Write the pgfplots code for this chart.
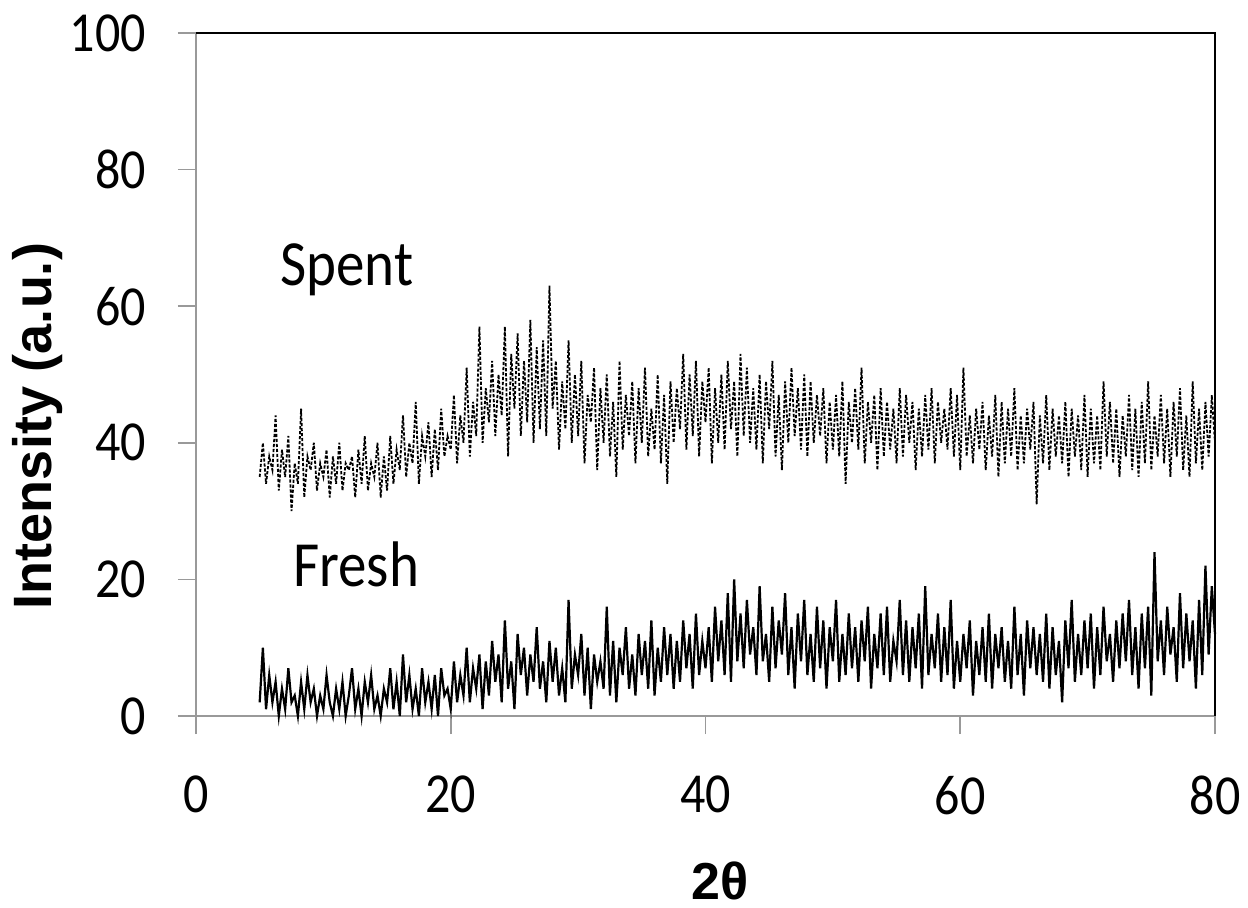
\documentclass[border=0pt]{standalone}
\usepackage{pgfplots}
\pgfplotsset{compat=1.18}
\usepackage{graphicx}
\usepackage{fontspec}
\setmainfont{Carlito}
\newfontfamily\arialb{Liberation Sans}[BoldFont={Liberation Sans Bold}]
\newcommand{\vs}[1]{\scalebox{1}[1.13]{#1}}
\begin{document}
\begin{tikzpicture}
\useasboundingbox (-98pt,-95.5pt) rectangle (526pt,358pt);
\begin{axis}[
  at={(0,0)}, anchor=south west,
  scale only axis, width=509.5pt, height=341.5pt,
  xmin=0, xmax=80, ymin=0, ymax=100,
  axis line style={draw=none},
  xtick={0,20,40,60,80}, ytick={0,20,40,60,80,100},
  tick pos=left, tick align=outside,
  major tick length=9pt,
  tick style={gray!80, line width=0.8pt},
  /pgf/number format/assume math mode=true,
  tick label style={font=\fontsize{25}{28}\selectfont},
  xticklabel style={yshift=-17.5pt},
  yticklabel style={xshift=-12.5pt},
  xticklabel={\vs{\pgfmathprintnumber{\tick}}},
  yticklabel={\vs{\pgfmathprintnumber{\tick}}},
  clip=false,
]
\draw[gray!80, line width=0.8pt] (axis cs:0,0) -- (axis cs:80,0);
\draw[gray!80, line width=0.8pt] (axis cs:0,0) -- (axis cs:0,100);
\draw[black, line width=1pt] (axis cs:0,100) -- (axis cs:80,100) -- (axis cs:80,0);

% Fresh
\addplot[black, line width=1.1pt, mark=none, line join=miter] coordinates {
(5,2)(5.25,10)(5.5,1)(5.75,6)
(6,2)(6.25,5)(6.5,0)(6.75,4)
(7,1)(7.25,7)(7.5,2)(7.75,3)
(8,0)(8.25,5)(8.5,1)(8.75,6)
(9,2)(9.25,4)(9.5,0)(9.75,3)
(10,1)(10.25,6)(10.5,2)(10.75,0)
(11,4)(11.25,1)(11.5,5)(11.75,0)
(12,3)(12.25,7)(12.5,1)(12.75,4)
(13,0)(13.25,5)(13.5,2)(13.75,6)
(14,1)(14.25,3)(14.5,0)(14.75,4)
(15,2)(15.25,7)(15.5,1)(15.75,5)
(16,0)(16.25,9)(16.5,2)(16.75,6)
(17,1)(17.25,4)(17.5,0)(17.75,7)
(18,2)(18.25,5)(18.5,1)(18.75,6)
(19,0)(19.25,7)(19.5,3)(19.75,4)
(20,1)(20.25,8)(20.5,2)(20.75,6)
(21,3)(21.25,10)(21.5,2)(21.75,7)
(22,4)(22.25,9)(22.5,1)(22.75,8)
(23,3)(23.25,11)(23.5,5)(23.75,9)
(24,2)(24.25,14)(24.5,4)(24.75,8)
(25,1)(25.25,12)(25.5,6)(25.75,10)
(26,3)(26.25,9)(26.5,5)(26.75,13)
(27,4)(27.25,8)(27.5,2)(27.75,11)
(28,5)(28.25,10)(28.5,3)(28.75,7)
(29,2)(29.25,17)(29.5,4)(29.75,9)
(30,6)(30.25,12)(30.5,3)(30.75,10)
(31,1)(31.25,9)(31.5,5)(31.75,8)
(32,4)(32.25,16)(32.5,3)(32.75,11)
(33,2)(33.25,10)(33.5,6)(33.75,13)
(34,4)(34.25,9)(34.5,3)(34.75,12)
(35,6)(35.25,11)(35.5,4)(35.75,14)
(36,3)(36.25,10)(36.5,5)(36.75,13)
(37,6)(37.25,12)(37.5,4)(37.75,11)
(38,5)(38.25,14)(38.5,7)(38.75,12)
(39,4)(39.25,15)(39.5,6)(39.75,11)
(40,7)(40.25,13)(40.5,5)(40.75,16)
(41,8)(41.25,14)(41.5,6)(41.75,18)
(42,5)(42.25,20)(42.5,8)(42.75,15)
(43,7)(43.25,17)(43.5,9)(43.75,13)
(44,6)(44.25,19)(44.5,8)(44.75,12)
(45,5)(45.25,16)(45.5,7)(45.75,14)
(46,9)(46.25,18)(46.5,6)(46.75,13)
(47,4)(47.25,15)(47.5,8)(47.75,17)
(48,6)(48.25,12)(48.5,5)(48.75,16)
(49,7)(49.25,14)(49.5,4)(49.75,13)
(50,8)(50.25,17)(50.5,5)(50.75,12)
(51,6)(51.25,15)(51.5,7)(51.75,13)
(52,5)(52.25,14)(52.5,8)(52.75,16)
(53,4)(53.25,12)(53.5,7)(53.75,15)
(54,6)(54.25,16)(54.5,5)(54.75,11)
(55,8)(55.25,17)(55.5,6)(55.75,14)
(56,5)(56.25,13)(56.5,7)(56.75,15)
(57,4)(57.25,19)(57.5,6)(57.75,12)
(58,7)(58.25,15)(58.5,5)(58.75,13)
(59,6)(59.25,17)(59.5,4)(59.75,11)
(60,5)(60.25,12)(60.5,7)(60.75,14)
(61,3)(61.25,11)(61.5,6)(61.75,13)
(62,5)(62.25,15)(62.5,4)(62.75,12)
(63,7)(63.25,13)(63.5,5)(63.75,11)
(64,4)(64.25,16)(64.5,6)(64.75,12)
(65,3)(65.25,14)(65.5,7)(65.75,13)
(66,6)(66.25,12)(66.5,5)(66.75,15)
(67,4)(67.25,13)(67.5,6)(67.75,11)
(68,2)(68.25,14)(68.5,7)(68.75,17)
(69,5)(69.25,12)(69.5,6)(69.75,14)
(70,7)(70.25,15)(70.5,4)(70.75,13)
(71,6)(71.25,16)(71.5,8)(71.75,12)
(72,5)(72.25,14)(72.5,7)(72.75,15)
(73,8)(73.25,17)(73.5,6)(73.75,13)
(74,4)(74.25,15)(74.5,7)(74.75,16)
(75,3)(75.25,24)(75.5,8)(75.75,14)
(76,6)(76.25,16)(76.5,9)(76.75,13)
(77,5)(77.25,18)(77.5,7)(77.75,15)
(78,8)(78.25,14)(78.5,4)(78.75,17)
(79,6)(79.25,22)(79.5,9)(79.75,19)
(80,12)
};

% Spent
\addplot[black, line width=0.9pt, dash pattern=on 1.6pt off 0.9pt, mark=none] coordinates {
(5,35)(5.25,40)(5.5,34)(5.75,38)
(6,36)(6.25,44)(6.5,33)(6.75,39)
(7,35)(7.25,41)(7.5,30)(7.75,37)
(8,34)(8.25,45)(8.5,32)(8.75,38)
(9,36)(9.25,40)(9.5,33)(9.75,37)
(10,35)(10.25,39)(10.5,32)(10.75,38)
(11,34)(11.25,40)(11.5,33)(11.75,37)
(12,36)(12.25,38)(12.5,32)(12.75,39)
(13,34)(13.25,41)(13.5,33)(13.75,37)
(14,35)(14.25,40)(14.5,32)(14.75,38)
(15,33)(15.25,41)(15.5,34)(15.75,39)
(16,36)(16.25,44)(16.5,35)(16.75,40)
(17,37)(17.25,46)(17.5,34)(17.75,41)
(18,38)(18.25,43)(18.5,35)(18.75,42)
(19,36)(19.25,45)(19.5,38)(19.75,41)
(20,39)(20.25,47)(20.5,37)(20.75,44)
(21,40)(21.25,51)(21.5,38)(21.75,46)
(22,41)(22.25,57)(22.5,40)(22.75,48)
(23,43)(23.25,52)(23.5,41)(23.75,50)
(24,44)(24.25,57)(24.5,38)(24.75,53)
(25,45)(25.25,56)(25.5,41)(25.75,52)
(26,43)(26.25,58)(26.5,40)(26.75,54)
(27,42)(27.25,55)(27.5,41)(27.75,63)
(28,45)(28.25,52)(28.5,39)(28.75,49)
(29,42)(29.25,55)(29.5,40)(29.75,50)
(30,41)(30.25,52)(30.5,37)(30.75,47)
(31,43)(31.25,51)(31.5,36)(31.75,48)
(32,40)(32.25,50)(32.5,38)(32.75,46)
(33,35)(33.25,52)(33.5,39)(33.75,47)
(34,41)(34.25,49)(34.5,37)(34.75,48)
(35,40)(35.25,51)(35.5,38)(35.75,45)
(36,39)(36.25,50)(36.5,37)(36.75,47)
(37,34)(37.25,49)(37.5,40)(37.75,48)
(38,42)(38.25,53)(38.5,39)(38.75,50)
(39,41)(39.25,52)(39.5,38)(39.75,49)
(40,43)(40.25,51)(40.5,37)(40.75,48)
(41,40)(41.25,50)(41.5,39)(41.75,52)
(42,42)(42.25,49)(42.5,38)(42.75,53)
(43,41)(43.25,51)(43.5,40)(43.75,48)
(44,39)(44.25,50)(44.5,37)(44.75,49)
(45,42)(45.25,52)(45.5,38)(45.75,47)
(46,36)(46.25,49)(46.5,40)(46.75,51)
(47,41)(47.25,48)(47.5,39)(47.75,50)
(48,38)(48.25,49)(48.5,40)(48.75,47)
(49,41)(49.25,48)(49.5,37)(49.75,46)
(50,39)(50.25,47)(50.5,38)(50.75,49)
(51,34)(51.25,46)(51.5,40)(51.75,48)
(52,39)(52.25,51)(52.5,37)(52.75,46)
(53,40)(53.25,47)(53.5,36)(53.75,48)
(54,38)(54.25,46)(54.5,39)(54.75,45)
(55,37)(55.25,48)(55.5,38)(55.75,47)
(56,40)(56.25,46)(56.5,36)(56.75,45)
(57,38)(57.25,47)(57.5,39)(57.75,48)
(58,37)(58.25,46)(58.5,40)(58.75,45)
(59,39)(59.25,48)(59.5,38)(59.75,47)
(60,36)(60.25,51)(60.5,38)(60.75,44)
(61,37)(61.25,45)(61.5,39)(61.75,46)
(62,36)(62.25,44)(62.5,38)(62.75,47)
(63,35)(63.25,46)(63.5,37)(63.75,45)
(64,38)(64.25,48)(64.5,36)(64.75,44)
(65,37)(65.25,45)(65.5,39)(65.75,46)
(66,31)(66.25,44)(66.5,37)(66.75,47)
(67,36)(67.25,45)(67.5,38)(67.75,44)
(68,37)(68.25,46)(68.5,35)(68.75,45)
(69,38)(69.25,44)(69.5,36)(69.75,47)
(70,35)(70.25,45)(70.5,37)(70.75,44)
(71,36)(71.25,49)(71.5,38)(71.75,46)
(72,37)(72.25,45)(72.5,35)(72.75,44)
(73,38)(73.25,47)(73.5,36)(73.75,45)
(74,35)(74.25,46)(74.5,37)(74.75,49)
(75,36)(75.25,44)(75.5,38)(75.75,47)
(76,37)(76.25,45)(76.5,35)(76.75,46)
(77,38)(77.25,48)(77.5,36)(77.75,44)
(78,35)(78.25,49)(78.5,37)(78.75,45)
(79,36)(79.25,46)(79.5,38)(79.75,47)
(80,40)
};

\node[anchor=base west, inner sep=0pt, font=\fontsize{28.5}{30}\selectfont] at (axis cs:6.6,63.1) {\vs{Spent}};
\node[anchor=base west, inner sep=0pt, font=\fontsize{28.5}{30}\selectfont] at (axis cs:7.6,18.9) {\vs{Fresh}};
\end{axis}
\node[anchor=base, inner sep=0pt, rotate=90, font=\arialb\bfseries\fontsize{27}{28}\selectfont] at (-72pt,145pt) {Intensity (a.u.)};
\node[anchor=base, inner sep=0pt, font=\arialb\bfseries\fontsize{26}{28}\selectfont] at (262pt,-91.5pt) {2θ};
\end{tikzpicture}
\end{document}
